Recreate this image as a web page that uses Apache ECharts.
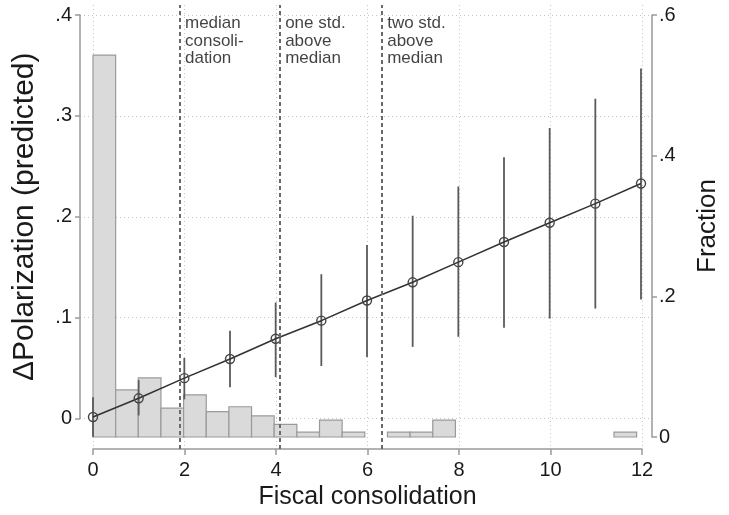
<!DOCTYPE html>
<html>
<head>
<meta charset="utf-8">
<script src="https://cdn.jsdelivr.net/npm/echarts@6/dist/echarts.min.js"></script>
<style>html,body{margin:0;padding:0;background:#fff}#c{width:729px;height:515px}</style>
</head>
<body>
<div id="c"></div>
<script>
// ---- data ----
const xTicks = [0, 2, 4, 6, 8, 10, 12];
const leftTickLabels = ['0', '.1', '.2', '.3', '.4'];
const rightTickLabels = ['0', '.2', '.4', '.6'];
const pointX = [0, 1, 2, 3, 4, 5, 6, 7, 8, 9, 10, 11, 12];
const predicted = [0.0015, 0.020, 0.040, 0.059, 0.079, 0.097, 0.117, 0.135, 0.155, 0.175, 0.194, 0.213, 0.233];
const ciLow  = [-0.018, 0.003, 0.019, 0.031, 0.041, 0.052, 0.061, 0.071, 0.081, 0.090, 0.099, 0.109, 0.118];
const ciHigh = [0.021, 0.038, 0.060, 0.087, 0.115, 0.143, 0.172, 0.201, 0.230, 0.259, 0.288, 0.317, 0.347];
const binStart = 0;
const binWidth = 0.496;
const fractions = [0.543, 0.067, 0.084, 0.041, 0.060, 0.036, 0.043, 0.030, 0.018, 0.007, 0.024, 0.007,
                   0, 0.007, 0.007, 0.024, 0, 0, 0, 0, 0, 0, 0, 0.007];
const refLines = [1.9, 4.09, 6.32];
const refLabels = ['median\nconsoli-\ndation', 'one std.\nabove\nmedian', 'two std.\nabove\nmedian'];

// ---- build ----
const FONT = 'Liberation Sans, Arial, Helvetica, sans-serif';
const histData = fractions.map((f, i) => [binStart + i * binWidth, binStart + (i + 1) * binWidth, f]);
const ciData = pointX.map((x, i) => [x, ciLow[i], ciHigh[i]]);
const predData = pointX.map((x, i) => [x, predicted[i]]);
const gridLine = { show: true, lineStyle: { color: '#c4c4c4', type: [1, 3], width: 1 } };
const axisGray = { show: true, lineStyle: { color: '#9a9a9a', width: 1.5 } };

const chart = echarts.init(document.getElementById('c'), null, { renderer: 'canvas' });
chart.setOption({
  animation: false,
  backgroundColor: '#fff',
  textStyle: { fontFamily: FONT },
  grid: [
    { left: 93, right: 87, top: 15, bottom: 78 },          // main data grid
    { left: 80, right: 76, top: 15, bottom: 96.5 },        // left axis display
    { left: 93, right: 87, top: 5, bottom: 66 }            // x axis display
  ],
  xAxis: [
    { gridIndex: 0, type: 'value', min: 0, max: 12, show: false },
    { gridIndex: 1, type: 'value', min: 0, max: 1, show: false },
    { gridIndex: 2, type: 'value', min: 0, max: 12, interval: 2,
      axisLine: axisGray,
      axisTick: { show: true, length: 6, lineStyle: { color: '#9a9a9a', width: 1.5 } },
      axisLabel: { fontSize: 20, color: '#1a1a1a', margin: 11, fontFamily: FONT,
                   formatter: v => String(xTicks[xTicks.indexOf(Math.round(v))]) },
      splitLine: gridLine,
      name: 'Fiscal consolidation', nameLocation: 'middle', nameGap: 33,
      nameTextStyle: { fontSize: 25, color: '#1a1a1a', fontFamily: FONT } }
  ],
  yAxis: [
    { gridIndex: 0, type: 'value', min: -0.01836, max: 0.4, show: false },
    { gridIndex: 0, type: 'value', position: 'right', offset: 11, min: 0, max: 0.6, interval: 0.2,
      axisLine: axisGray,
      axisTick: { show: true, length: 5, lineStyle: { color: '#9a9a9a', width: 1.5 } },
      axisLabel: { fontSize: 20, color: '#1a1a1a', margin: 7, fontFamily: FONT,
                   formatter: v => rightTickLabels[Math.round(v / 0.2)] },
      splitLine: { show: false },
      name: 'Fraction', nameLocation: 'middle', nameGap: 43,
      nameTextStyle: { fontSize: 26, color: '#1a1a1a', fontFamily: FONT } },
    { gridIndex: 1, type: 'value', min: 0, max: 0.4, interval: 0.1,
      axisLine: axisGray,
      axisTick: { show: true, length: 5, lineStyle: { color: '#9a9a9a', width: 1.5 } },
      axisLabel: { fontSize: 20, color: '#1a1a1a', margin: 8, fontFamily: FONT,
                   formatter: v => leftTickLabels[Math.round(v / 0.1)] },
      splitLine: gridLine,
      name: 'ΔPolarization (predicted)', nameLocation: 'middle', nameGap: 40,
      nameTextStyle: { fontSize: 30, color: '#1a1a1a', fontFamily: FONT } },
    { gridIndex: 2, type: 'value', min: 0, max: 1, show: false }
  ],
  series: [
    { // histogram
      type: 'custom', xAxisIndex: 0, yAxisIndex: 1, data: histData, z: 2,
      renderItem: (params, api) => {
        const f = api.value(2);
        if (!f) return { type: 'group', children: [] };
        const p0 = api.coord([api.value(0), f]);
        const p1 = api.coord([api.value(1), 0]);
        return { type: 'rect',
          shape: { x: p0[0], y: p0[1], width: p1[0] - p0[0], height: p1[1] - p0[1] },
          style: { fill: '#dadada', stroke: '#9a9a9a', lineWidth: 1.2 } };
      }
    },
    { // confidence intervals
      type: 'custom', xAxisIndex: 0, yAxisIndex: 0, data: ciData, z: 3,
      renderItem: (params, api) => {
        const a = api.coord([api.value(0), api.value(1)]);
        const b = api.coord([api.value(0), api.value(2)]);
        return { type: 'line', shape: { x1: a[0], y1: a[1], x2: b[0], y2: b[1] },
                 style: { stroke: '#5a5a5a', lineWidth: 1.8 } };
      }
    },
    { // predicted
      type: 'line', xAxisIndex: 0, yAxisIndex: 0, data: predData, z: 4,
      symbol: 'circle', symbolSize: 9,
      lineStyle: { color: '#333', width: 1.6 },
      itemStyle: { color: 'rgba(0,0,0,0)', borderColor: '#444', borderWidth: 1.4 }
    },
    { // reference lines + annotations
      type: 'scatter', xAxisIndex: 2, yAxisIndex: 3, z: 5,
      data: refLines.map((x, i) => ({ value: [x, 1], label: { formatter: refLabels[i] } })),
      symbolSize: 0.1,
      label: { show: true, position: 'right', distance: 5, verticalAlign: 'top', offset: [0, 10],
               fontSize: 17, lineHeight: 17.5, color: '#111', fontFamily: FONT },
      markLine: { symbol: 'none', silent: true, label: { show: false },
                  lineStyle: { color: '#6a6a6a', type: [4, 3], width: 2 },
                  data: refLines.map(x => ({ xAxis: x })) }
    }
  ]
});
</script>
</body>
</html>
